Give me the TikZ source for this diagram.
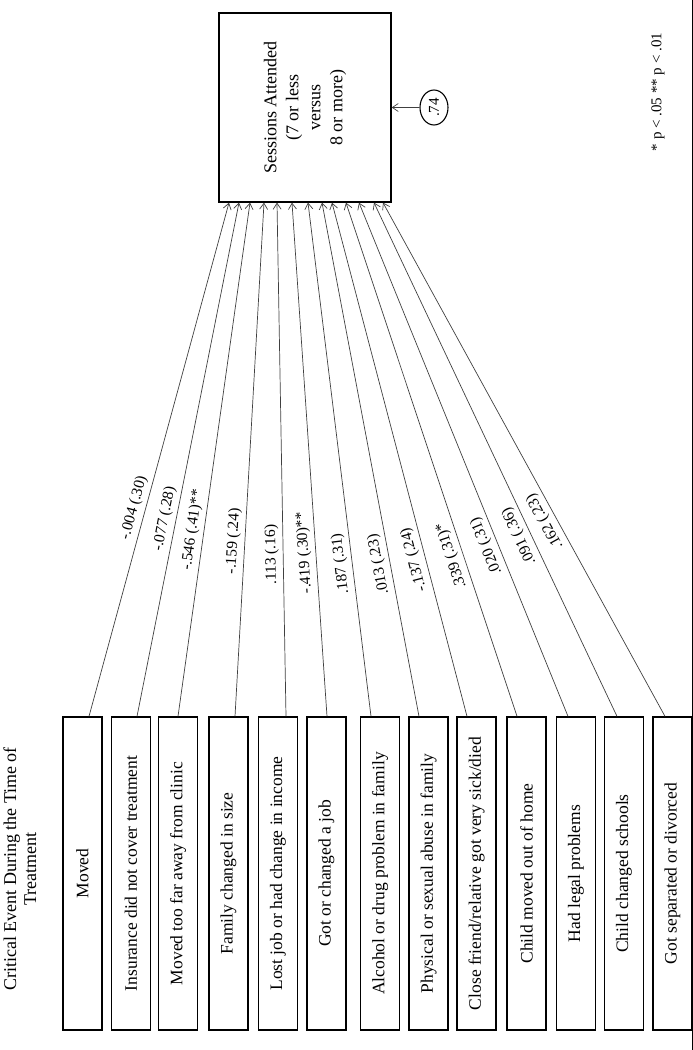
\documentclass[tikz,border=0pt]{standalone}
\usepackage{amsmath}
\usepackage{fontspec}
\setmainfont{Liberation Serif}
\usepackage{tikz}
\usetikzlibrary{shapes.geometric,arrows.meta}

\begin{document}
\begin{tikzpicture}[x=1pt,y=1pt,
        >={Straight Barb[length=6pt,width=8pt]},
        evbox/.style={draw,line width=1.3pt,rotate=90,minimum width=313pt,minimum height=39pt,inner sep=0pt,font=\fontsize{17.5}{21}\selectfont},
        effect/.style={->,draw=black!75,line width=0.7pt},
        coef/.style={sloped,allow upside down,above=3pt,inner sep=1pt,font=\fontsize{15.5}{18}\selectfont}]
        \useasboundingbox (0,0) rectangle (693,-1050);
        \draw[line width=0.8pt] (692,0) -- (692,-1050);
        \node[draw,line width=1.3pt,rotate=90,minimum width=189pt,minimum height=172pt,align=center,font=\fontsize{18}{22}\selectfont] (sess) at (305,-107.5) {Sessions Attended\\(7 or less\\versus\\8 or more)};
        \node[draw,ellipse,line width=1.1pt,rotate=90,minimum width=35pt,minimum height=28pt,inner sep=0pt,font=\fontsize{15}{18}\selectfont] (err) at (434,-107.5) {.74};
        \draw[effect] (err) -- (sess);
        \node[rotate=90,align=center,inner sep=0pt,font=\fontsize{18}{20}\selectfont] (title) at (20,-869) {Critical Event During the Time of\\Treatment};
        \node[rotate=90,font=\fontsize{15}{18}\selectfont] (note) at (658,-92) {* p < .05 ** p < .01};
        \foreach \n/\x/\ev in {1/82.5/{Moved},2/131/{Insurance did not cover treatment},3/178/{Moved too far away from clinic},
            4/228.5/{Family changed in size},5/278/{Lost job or had change in income},6/326.5/{Got or changed a job},
            7/380/{Alcohol or drug problem in family},8/428.5/{Physical or sexual abuse in family},
            9/476.5/{Close friend/relative got very sick/died},10/526.5/{Child moved out of home},
            11/576/{Had legal problems},12/624/{Child changed schools},13/672.5/{Got separated or divorced}}
            \node[evbox] (e\n) at (\x,-873.5) {\ev};
        % turned boxes: .east is the top side, .west the bottom side
        \foreach \n/\sx/\ex/\p/\cf in {1/6.5/-76/0.40/{-.004 (.30)},2/6/-66/0.38/{-.077 (.28)},3/0/-55/0.36/{-.546 (.41)**},
            4/6.5/-41/0.34/{-.159 (.24)},5/8/-28/0.315/{.113 (.16)},6/0.5/-13/0.32/{-.419 (.30)**},
            7/-9/3/0.30/{.187 (.31)},8/-9.5/17/0.30/{.013 (.23)},9/-9.5/27/0.31/{-.137 (.24)},
            10/-9.5/41/0.32/{.339 (.31)*},11/-8/54/0.34/{.020 (.31)},12/-7/69/0.36/{.091 (.36)},13/-7.5/78/0.39/{.162 (.23)}}
            \draw[effect] ([xshift=\sx pt]e\n.east) -- node[coef,pos=\p] {\cf} ([xshift=\ex pt]sess.west);
\end{tikzpicture}
\end{document}
